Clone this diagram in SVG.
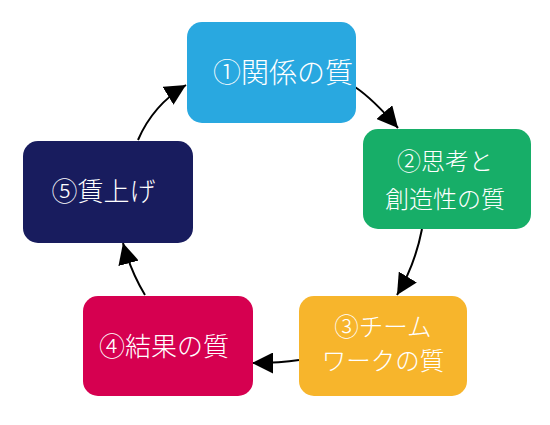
<svg xmlns="http://www.w3.org/2000/svg" width="550" height="425" viewBox="0 0 550 425">
<style>
.lbl{font-family:"Noto Sans CJK JP","Noto Sans",sans-serif;font-weight:300;fill:#ffffff;text-anchor:middle}
.con{fill:none;stroke:#000000;stroke-width:2;marker-end:url(#ah)}
</style>
<defs>
<marker id="ah" markerUnits="userSpaceOnUse" markerWidth="21" markerHeight="21" refX="21" refY="10.5" orient="auto" viewBox="0 0 21 21">
<path d="M0,0 L21,10.5 L0,21 z" fill="#000000"/>
</marker>
</defs>
<rect width="550" height="425" fill="#ffffff"/>
<g id="connectors">
<path class="con" d="M355,87 Q373,99 398,128"/>
<path class="con" d="M422,229 Q415,265 397,295"/>
<path class="con" d="M299,360 Q280,363 252,363"/>
<path class="con" d="M145,295 Q131,272 123,243"/>
<path class="con" d="M138,140 Q153,105 186,85"/>
</g>
<g id="n1">
<rect x="187" y="22" width="169" height="101" rx="15" fill="#29A8E0"/>
<text class="lbl" x="283" y="83" font-size="28">①関係の質</text>
</g>
<g id="n2">
<rect x="363" y="129" width="168" height="100" rx="15" fill="#17AE68"/>
<text class="lbl" x="445" y="170" font-size="24">②思考と</text>
<text class="lbl" x="445" y="208" font-size="24">創造性の質</text>
</g>
<g id="n3">
<rect x="299" y="296" width="168" height="100" rx="15" fill="#F7B52C"/>
<text class="lbl" x="383" y="336" font-size="24.5">③チーム</text>
<text class="lbl" x="383" y="370" font-size="24.5">ワークの質</text>
</g>
<g id="n4">
<rect x="83" y="296" width="170" height="100" rx="15" fill="#D60050"/>
<text class="lbl" x="164" y="356" font-size="26">④結果の質</text>
</g>
<g id="n5">
<rect x="23" y="141" width="170" height="102" rx="15" fill="#181C5E"/>
<text class="lbl" x="103.5" y="201" font-size="26">⑤賃上げ</text>
</g>
</svg>
